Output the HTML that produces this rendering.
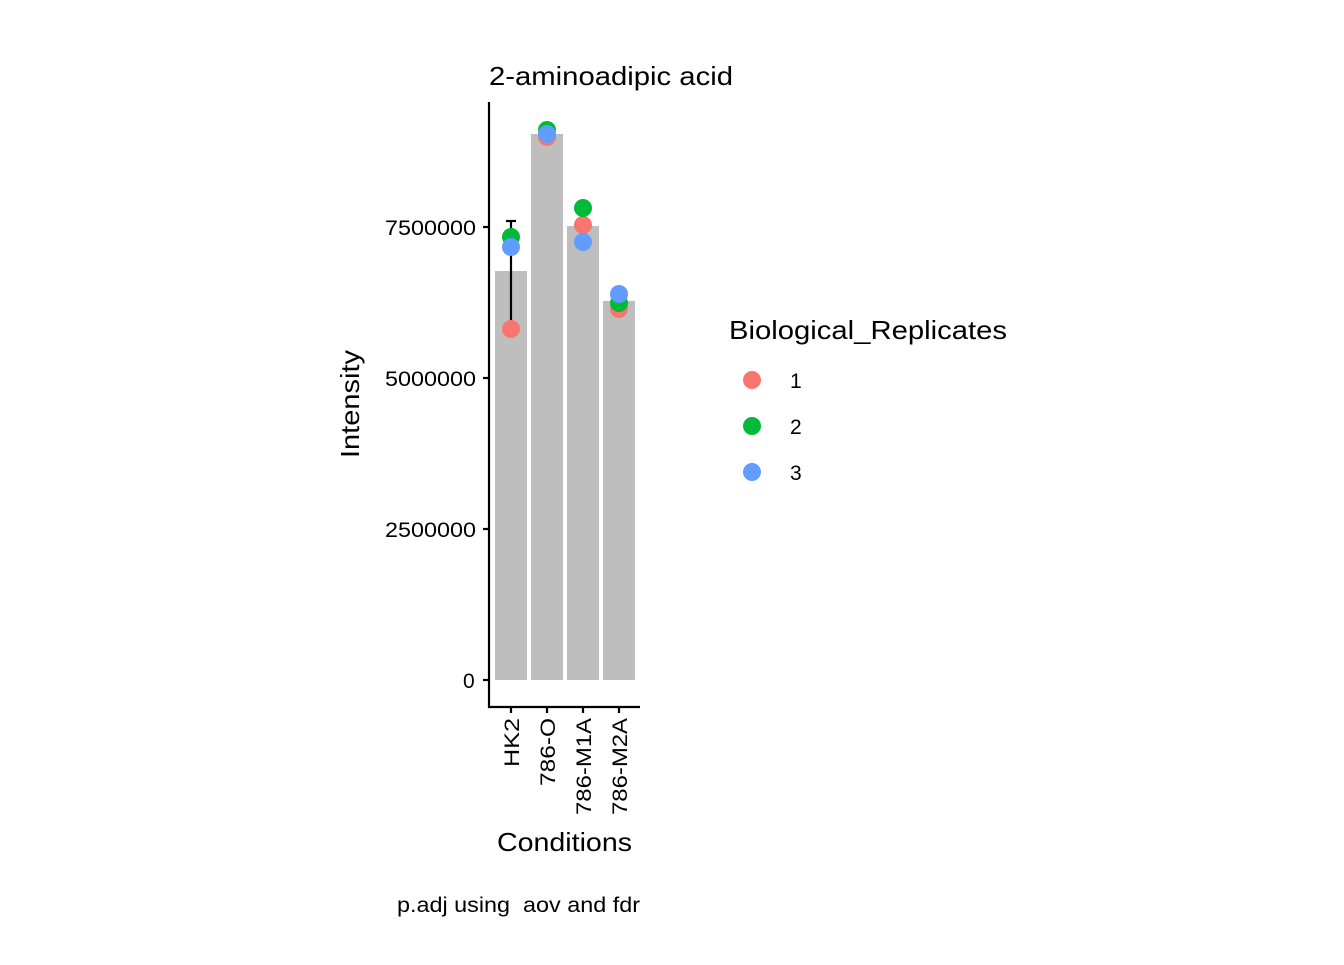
<!DOCTYPE html>
<html><head><meta charset="utf-8"><style>
body{margin:0;background:#fff}
svg text{font-family:"Liberation Sans",Arial,sans-serif}
</style></head><body>
<svg width="1344" height="960" viewBox="0 0 1344 960" xmlns="http://www.w3.org/2000/svg">
<rect width="1344" height="960" fill="#fff"/>
<text x="489" y="85" font-size="26" fill="#000" textLength="244" lengthAdjust="spacingAndGlyphs">2-aminoadipic acid</text>
<g fill="#BEBEBE">
<rect x="495" y="271" width="32" height="409"/>
<rect x="531" y="134" width="32" height="546"/>
<rect x="567" y="226" width="32" height="454"/>
<rect x="603" y="301" width="32" height="379"/>
</g>
<g stroke="#000" stroke-width="2.2">
<line x1="511" y1="221" x2="511" y2="329"/>
<line x1="506" y1="221" x2="516" y2="221"/>
</g>
<g>
<circle cx="511" cy="329" r="9" fill="#F8766D"/>
<circle cx="511" cy="237" r="9" fill="#00BA38"/>
<circle cx="511" cy="247" r="9" fill="#619CFF"/>
<circle cx="547" cy="137" r="9" fill="#F8766D"/>
<circle cx="547" cy="130" r="9" fill="#00BA38"/>
<circle cx="547" cy="134" r="9" fill="#619CFF"/>
<circle cx="583" cy="225" r="9" fill="#F8766D"/>
<circle cx="583" cy="208" r="9" fill="#00BA38"/>
<circle cx="583" cy="242" r="9" fill="#619CFF"/>
<circle cx="619" cy="309" r="9" fill="#F8766D"/>
<circle cx="619" cy="303" r="9" fill="#00BA38"/>
<circle cx="619" cy="294" r="9" fill="#619CFF"/>
</g>
<g stroke="#000" stroke-width="2.2" fill="none">
<polyline points="489,102 489,707 640,707"/>
<line x1="483" y1="680" x2="489" y2="680"/>
<line x1="483" y1="529" x2="489" y2="529"/>
<line x1="483" y1="378" x2="489" y2="378"/>
<line x1="483" y1="227" x2="489" y2="227"/>
<line x1="511" y1="707" x2="511" y2="713"/>
<line x1="547" y1="707" x2="547" y2="713"/>
<line x1="583" y1="707" x2="583" y2="713"/>
<line x1="619" y1="707" x2="619" y2="713"/>
</g>
<g font-size="21" fill="#000">
<text x="463" y="688">0</text>
<text x="385" y="537" textLength="91" lengthAdjust="spacingAndGlyphs">2500000</text>
<text x="385" y="386" textLength="91" lengthAdjust="spacingAndGlyphs">5000000</text>
<text x="385" y="235" textLength="91" lengthAdjust="spacingAndGlyphs">7500000</text>
</g>
<g font-size="21" fill="#000">
<text transform="translate(519,767) rotate(-90)" textLength="49" lengthAdjust="spacingAndGlyphs">HK2</text>
<text transform="translate(555,786) rotate(-90)" textLength="68" lengthAdjust="spacingAndGlyphs">786-O</text>
<text transform="translate(591,815) rotate(-90)" textLength="97" lengthAdjust="spacingAndGlyphs">786-M1A</text>
<text transform="translate(627,815) rotate(-90)" textLength="97" lengthAdjust="spacingAndGlyphs">786-M2A</text>
</g>
<text x="497" y="851" font-size="26" textLength="135" lengthAdjust="spacingAndGlyphs">Conditions</text>
<text transform="translate(359,458) rotate(-90)" font-size="26" textLength="108" lengthAdjust="spacingAndGlyphs">Intensity</text>
<text x="397" y="912" font-size="21" textLength="243" lengthAdjust="spacingAndGlyphs" xml:space="preserve">p.adj using  aov and fdr</text>
<text x="729" y="339" font-size="26" textLength="278" lengthAdjust="spacingAndGlyphs">Biological_Replicates</text>
<circle cx="752" cy="380" r="9" fill="#F8766D"/>
<circle cx="752" cy="426" r="9" fill="#00BA38"/>
<circle cx="752" cy="472" r="9" fill="#619CFF"/>
<g font-size="21"><text x="790" y="388">1</text><text x="790" y="434">2</text><text x="790" y="480">3</text></g>
</svg>
</body></html>
